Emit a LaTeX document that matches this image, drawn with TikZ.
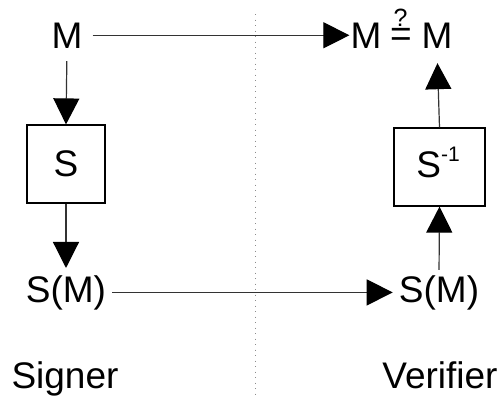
\documentclass[tikz,border=0pt]{standalone}
\usepackage{fontspec}
\setmainfont{Liberation Sans}
\usetikzlibrary{arrows.meta}
\begin{document}
\begin{tikzpicture}[x=1pt,y=-1pt,
  lbl/.style={inner sep=0pt, font=\fontsize{37}{40}\selectfont},
  box/.style={draw=black, line width=1.2pt, inner sep=0pt},
  conn/.style={line width=1.2pt, draw=black!80, -{Triangle[length=26pt,width=26pt,color=black]}},
  divider/.style={draw=black!45, line width=0.9pt, dash pattern=on 1pt off 4.5pt}]
\useasboundingbox (0,0) rectangle (501,399);
% divider
\coordinate (dtop) at (255,14);
\coordinate (dbot) at (255,399);
\draw[divider] (dtop) -- (dbot);
% signer side
\node[lbl, anchor=base] (m1) at (67,48) {M};
\node[box, minimum width=78pt, minimum height=78pt] (s) at (66,164) {};
\node[lbl] (stext) at (66,164) {S};
\node[lbl, anchor=base] (sm1) at (66,302) {S(M)};
\node[lbl, anchor=base] (signer) at (65,388) {Signer};
% verifier side
\node[lbl, anchor=base] (m2) at (366,48) {M};
\node[lbl, anchor=base] (eq) at (401,46) {\makebox[0pt][l]{\hspace{3.3pt}\raisebox{20pt}{\fontsize{25}{26}\selectfont ?}}=};
\node[lbl, anchor=base] (m3) at (437,48) {M};
\node[box, minimum width=91pt, minimum height=78pt] (sinv) at (439.5,167) {};
\node[lbl, anchor=base] (sinvtext) at (438,177) {S\raisebox{16pt}{\fontsize{21}{22}\selectfont -1}};
\node[lbl, anchor=base] (sm2) at (439,302) {S(M)};
\node[lbl, anchor=base] (verifier) at (440,388) {Verifier};
% connectors
\draw[conn, shorten <=10pt, shorten >=1pt] (m1.east) -- (m2.west);
\draw[conn, shorten <=13pt] (m1.south) -- (s.north);
\draw[conn, shorten >=7pt] (s.south) -- (sm1.north);
\draw[conn, shorten <=6pt, shorten >=6pt] (sm1.east) -- (sm2.west);
\draw[conn, shorten <=5pt] (sm2.north) -- (sinv.south);
\draw[conn, shorten >=15pt] (sinv.north) -- (m3.south);
\end{tikzpicture}
\end{document}
